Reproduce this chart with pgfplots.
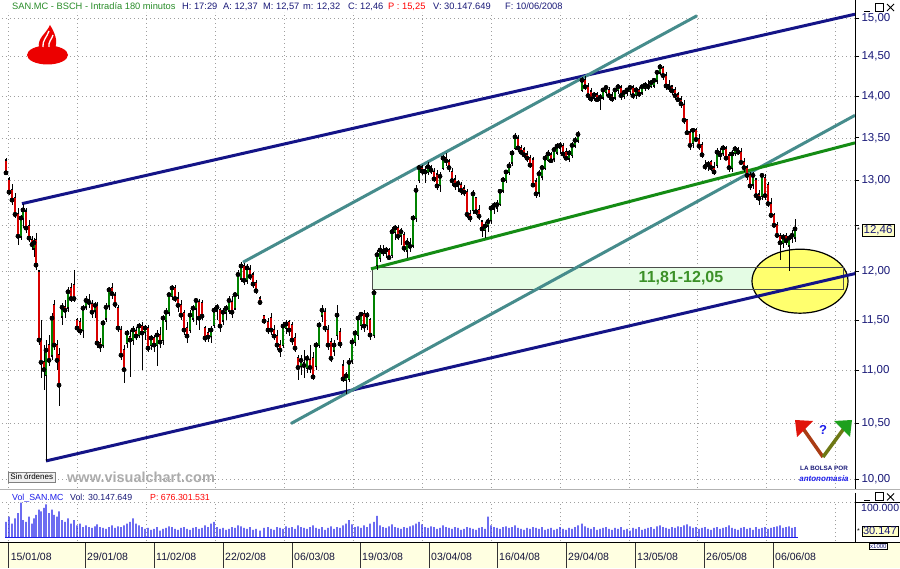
\documentclass[border=0pt]{standalone}
\usepackage{pgfplots}
\pgfplotsset{compat=1.18}
\usepackage{pgfplotstable}
\usetikzlibrary{shapes.geometric}
\usepackage{fontspec}
\setmainfont{Liberation Sans}
\definecolor{vnavy}{RGB}{25,25,120}
\definecolor{hgreen}{RGB}{40,140,40}
\definecolor{bline}{RGB}{20,20,135}
\definecolor{tline}{RGB}{70,140,140}
\definecolor{gline}{RGB}{20,140,20}
\definecolor{candg}{RGB}{0,130,0}
\definecolor{candr}{RGB}{215,0,0}
\definecolor{rectg}{RGB}{228,252,228}
\definecolor{ellY}{RGB}{255,255,110}
\definecolor{txtg}{RGB}{60,145,40}
\definecolor{strip}{RGB}{255,255,225}
\definecolor{vblue}{RGB}{30,30,235}
\definecolor{sred}{RGB}{236,0,0}
\definecolor{boxY}{RGB}{255,255,200}
\definecolor{datec}{RGB}{20,20,60}
\definecolor{armR}{RGB}{170,60,20}
\definecolor{armG}{RGB}{110,120,20}
\definecolor{logoR}{RGB}{225,20,10}
\definecolor{logoG}{RGB}{30,160,30}
\tikzset{gridst/.style={gray!75, line width=0.5pt, dash pattern=on 1pt off 3pt}}
\pgfplotstableread{
x o h l c v
6 13.23 13.26 13.06 13.09 45
9 13.01 13.04 12.84 12.87 60
12 12.89 12.96 12.72 12.78 40
15 12.80 12.86 12.58 12.62 55
18 12.62 12.69 12.28 12.38 70
21 12.38 12.61 12.34 12.58 100
23 12.58 12.74 12.47 12.67 50
26 12.65 12.69 12.41 12.47 45
29 12.49 12.56 12.32 12.36 60
32 12.34 12.38 12.23 12.29 40
34 12.25 12.36 12.16 12.31 55
36 12.34 12.42 12.02 12.07 65
39 12.00 12.02 11.25 11.30 80
41 11.30 11.50 10.93 11.08 75
44 11.08 11.25 10.81 11.01 85
46 10.96 11.30 10.16 11.20 95
49 11.25 11.35 11.05 11.10 70
52 11.15 11.57 11.10 11.52 80
54 11.65 11.70 11.20 11.25 65
57 11.25 11.30 11.01 11.10 60
59 11.15 11.22 10.66 10.86 75
62 11.54 11.67 11.45 11.63 50
65 11.63 11.70 11.52 11.60 45
68 11.63 11.84 11.58 11.79 55
71 11.83 11.88 11.68 11.72 40
74 11.86 12.02 11.68 11.72 50
77 11.50 11.52 11.38 11.42 35
80 11.48 11.52 11.35 11.39 40
83 11.40 11.65 11.32 11.62 30
86 11.64 11.75 11.60 11.70 35
89 11.70 11.77 11.62 11.68 30
92 11.66 11.70 11.52 11.58 28
95 11.60 11.68 11.52 11.65 32
97 11.64 11.68 11.22 11.27 38
100 11.27 11.32 11.18 11.24 30
103 11.25 11.50 11.22 11.47 28
106 11.52 11.67 11.48 11.63 25
109 11.65 11.84 11.60 11.81 30
112 11.83 11.88 11.72 11.77 35
115 11.75 11.79 11.62 11.66 28
118 11.62 11.65 11.38 11.42 32
121 11.40 11.44 11.10 11.15 30
124 11.20 11.25 10.88 11.01 35
127 11.27 11.40 11.22 11.37 40
130 11.33 11.40 10.94 11.30 45
133 11.30 11.44 11.25 11.40 55
136 11.39 11.43 11.30 11.34 40
139 11.35 11.47 11.32 11.44 35
142 11.44 11.48 11.01 11.37 30
145 11.38 11.45 11.30 11.42 25
148 11.42 11.45 11.18 11.22 28
151 11.25 11.35 11.20 11.32 22
154 11.32 11.35 11.18 11.25 25
157 11.25 11.40 11.05 11.35 30
160 11.35 11.43 11.22 11.28 20
163 11.30 11.55 11.25 11.52 25
166 11.50 11.62 11.40 11.58 28
169 11.58 11.77 11.54 11.76 32
172 11.75 11.86 11.70 11.83 30
175 11.83 11.86 11.68 11.72 25
178 11.72 11.79 11.58 11.65 22
181 11.65 11.70 11.50 11.55 28
184 11.57 11.60 11.35 11.40 30
187 11.42 11.48 11.27 11.34 25
190 11.40 11.60 11.37 11.55 22
193 11.52 11.65 11.48 11.62 28
196 11.62 11.73 11.45 11.70 30
199 11.68 11.72 11.40 11.52 25
202 11.67 11.70 11.50 11.54 28
205 11.42 11.44 11.28 11.32 35
208 11.37 11.42 11.28 11.33 30
211 11.34 11.44 11.27 11.40 40
214 11.45 11.63 11.42 11.60 45
217 11.60 11.66 11.50 11.63 30
220 11.60 11.62 11.38 11.44 25
223 11.50 11.62 11.45 11.58 28
226 11.58 11.65 11.50 11.62 22
229 11.60 11.75 11.56 11.70 25
232 11.68 11.75 11.52 11.58 30
235 11.62 11.79 11.60 11.76 28
238 11.76 12.02 11.72 11.97 35
241 11.93 12.10 11.89 12.06 32
244 12.06 12.09 11.86 11.91 28
247 11.91 12.08 11.87 12.04 25
250 12.02 12.07 11.91 11.95 30
253 11.97 12.00 11.83 11.87 22
256 11.88 11.91 11.77 11.80 25
260 11.72 11.75 11.65 11.68 20
264 11.54 11.55 11.46 11.49 28
268 11.48 11.52 11.36 11.40 30
271 11.52 11.57 11.35 11.40 25
274 11.40 11.45 11.30 11.34 22
277 11.34 11.40 11.20 11.25 30
280 11.25 11.30 11.13 11.20 28
283 11.25 11.48 11.22 11.44 25
286 11.42 11.50 11.36 11.46 32
289 11.48 11.50 11.34 11.40 28
292 11.45 11.48 11.25 11.30 30
295 11.32 11.37 11.18 11.22 25
298 11.12 11.15 10.91 11.03 35
301 11.05 11.15 10.96 11.10 30
304 11.07 11.20 10.93 11.05 28
307 11.03 11.15 10.98 11.12 25
310 11.10 11.25 10.98 11.03 30
313 11.12 11.18 10.91 10.94 35
316 11.05 11.28 11.01 11.25 28
319 11.25 11.48 11.22 11.45 25
322 11.55 11.65 11.48 11.60 30
325 11.58 11.62 11.38 11.42 22
328 11.40 11.45 11.20 11.25 28
331 11.28 11.32 11.08 11.12 32
334 11.20 11.30 11.14 11.25 25
337 11.35 11.65 11.30 11.55 30
340 11.38 11.42 11.22 11.26 28
343 11.05 11.10 10.89 10.92 35
346 10.91 10.99 10.78 10.95 40
349 10.92 11.12 10.89 11.08 50
352 11.10 11.32 11.06 11.28 38
355 11.28 11.40 11.24 11.37 30
358 11.35 11.55 11.30 11.52 32
361 11.45 11.58 11.40 11.56 28
364 11.56 11.60 11.38 11.44 35
367 11.45 11.58 11.40 11.55 30
370 11.50 11.52 11.30 11.35 40
374 11.35 11.81 11.32 11.78 45
377 12.07 12.23 12.02 12.18 62
380 12.15 12.28 12.10 12.23 35
383 12.23 12.28 12.17 12.21 30
386 12.20 12.26 12.15 12.23 28
389 12.23 12.25 12.12 12.15 32
392 12.18 12.48 12.15 12.43 38
395 12.43 12.50 12.34 12.47 30
398 12.47 12.50 12.34 12.38 28
401 12.39 12.47 12.28 12.43 25
404 12.39 12.43 12.21 12.25 30
407 12.23 12.36 12.15 12.31 28
410 12.30 12.36 12.21 12.27 32
413 12.28 12.61 12.25 12.58 35
416 12.58 12.95 12.54 12.89 40
419 13.01 13.18 12.97 13.15 45
422 13.15 13.18 13.07 13.11 38
425 13.12 13.17 12.97 13.10 30
428 13.10 13.21 13.06 13.16 28
431 13.15 13.18 13.08 13.12 32
434 13.10 13.15 12.99 13.02 30
437 13.07 13.12 12.89 12.94 25
440 12.95 13.10 12.87 13.05 28
443 13.15 13.30 13.12 13.26 35
446 13.26 13.32 13.17 13.23 30
449 13.22 13.25 13.10 13.15 28
452 13.10 13.15 12.94 13.00 25
455 13.01 13.06 12.89 12.95 30
458 12.94 13.01 12.87 12.97 28
461 12.95 12.98 12.84 12.89 22
464 12.91 12.95 12.83 12.87 25
467 12.87 12.91 12.58 12.62 30
470 12.62 12.67 12.54 12.58 28
473 12.67 12.89 12.62 12.85 25
476 12.80 12.82 12.61 12.65 22
479 12.67 12.72 12.56 12.60 28
482 12.54 12.56 12.37 12.46 30
485 12.45 12.54 12.36 12.49 25
488 12.50 12.58 12.43 12.54 60
491 12.56 12.72 12.51 12.69 35
494 12.69 12.76 12.62 12.72 30
497 12.70 12.78 12.65 12.73 28
500 12.74 12.91 12.71 12.88 25
503 12.89 13.04 12.86 13.01 30
506 13.01 13.12 12.97 13.10 32
509 13.10 13.21 13.07 13.17 28
512 13.21 13.36 13.17 13.32 30
515 13.38 13.56 13.36 13.51 35
518 13.49 13.53 13.33 13.38 28
521 13.38 13.42 13.30 13.33 25
524 13.36 13.39 13.26 13.30 22
527 13.30 13.34 13.22 13.26 28
530 13.26 13.30 13.15 13.18 25
533 13.24 13.27 12.94 12.95 30
536 12.99 13.03 12.80 12.85 28
539 12.87 13.12 12.82 13.08 25
542 13.05 13.18 13.01 13.15 30
545 13.15 13.30 13.12 13.26 22
548 13.24 13.36 13.21 13.31 25
551 13.30 13.33 13.20 13.23 28
554 13.26 13.39 13.22 13.36 22
557 13.33 13.44 13.30 13.40 25
560 13.38 13.45 13.31 13.41 30
563 13.40 13.44 13.26 13.31 25
566 13.33 13.38 13.24 13.26 22
569 13.26 13.36 13.21 13.32 28
572 13.30 13.45 13.26 13.41 25
575 13.41 13.51 13.38 13.47 30
578 13.47 13.58 13.44 13.54 35
582 14.08 14.24 14.05 14.20 40
585 14.20 14.25 14.08 14.12 32
588 14.12 14.17 13.96 14.01 28
591 14.06 14.11 13.93 13.97 25
594 13.99 14.06 13.94 14.02 30
597 14.02 14.06 13.93 13.96 22
600 13.96 14.03 13.83 13.99 25
603 13.99 14.11 13.96 14.08 28
606 14.06 14.14 14.01 14.11 30
609 14.08 14.12 13.96 14.01 25
612 14.01 14.06 13.93 13.97 22
615 13.99 14.11 13.96 14.08 28
618 14.08 14.15 14.03 14.12 25
621 14.11 14.14 13.96 14.01 30
624 14.01 14.07 13.97 14.05 22
627 14.05 14.11 14.01 14.08 25
630 14.07 14.12 14.02 14.11 20
633 14.11 14.14 13.97 14.01 28
636 14.02 14.12 13.97 14.08 25
639 14.08 14.12 13.99 14.03 30
642 14.05 14.14 14.02 14.12 22
645 14.11 14.18 14.07 14.14 25
648 14.14 14.20 14.08 14.12 28
651 14.13 14.21 14.10 14.17 30
654 14.14 14.22 14.11 14.20 25
657 14.20 14.33 14.15 14.30 32
660 14.30 14.40 14.27 14.37 35
663 14.35 14.38 14.20 14.26 30
666 14.26 14.30 14.08 14.13 28
669 14.14 14.20 14.06 14.11 25
672 14.12 14.14 14.02 14.07 30
675 14.08 14.12 13.96 14.01 28
678 14.02 14.06 13.93 13.96 32
681 13.96 14.01 13.86 13.91 30
684 13.89 13.96 13.67 13.71 35
687 13.71 13.73 13.53 13.56 38
690 13.56 13.61 13.36 13.41 32
693 13.44 13.62 13.38 13.59 28
696 13.59 13.62 13.45 13.48 30
699 13.48 13.54 13.36 13.40 25
702 13.41 13.45 13.26 13.30 28
705 13.18 13.24 13.12 13.16 30
708 13.17 13.23 13.11 13.19 25
711 13.21 13.24 13.11 13.15 22
714 13.15 13.22 13.06 13.10 28
717 13.18 13.38 13.15 13.33 30
720 13.33 13.38 13.24 13.30 25
723 13.32 13.41 13.29 13.38 28
726 13.37 13.40 13.24 13.26 30
729 13.29 13.33 13.10 13.15 35
732 13.15 13.36 13.10 13.31 28
735 13.32 13.40 13.29 13.37 25
738 13.36 13.39 13.30 13.33 22
741 13.33 13.38 13.18 13.21 28
744 13.21 13.26 13.10 13.15 30
747 13.15 13.18 13.01 13.06 25
750 13.06 13.10 12.89 12.94 28
753 12.96 13.10 12.91 13.06 22
756 13.01 13.03 12.78 12.83 30
759 12.84 12.89 12.72 12.80 25
762 12.83 13.09 12.78 13.06 28
765 13.03 13.08 12.78 12.83 30
768 12.95 12.98 12.70 12.74 25
771 12.74 12.80 12.59 12.61 28
774 12.61 12.64 12.48 12.50 30
777 12.50 12.54 12.36 12.39 32
780 12.38 12.42 12.12 12.31 35
783 12.31 12.40 12.25 12.37 28
786 12.38 12.42 12.28 12.33 30
789 12.28 12.39 12.01 12.36 32
792 12.36 12.45 12.31 12.39 28
795 12.37 12.57 12.32 12.46 30.147
}\candles
\pgfplotstableread{
x p
22 12.74
855 15.05
}\navyTop
\pgfplotstableread{
x p
46 10.16
855 11.98
}\navyBot
\pgfplotstableread{
x p
243 12.10
697 15.03
}\tealTop
\pgfplotstableread{
x p
291 10.50
855 13.77
}\tealBot
\pgfplotstableread{
x p
371 12.03
855 13.44
}\greenLine
\begin{document}
\begin{tikzpicture}[x=1pt,y=1pt]
\path[use as bounding box] (0,0) rectangle (900,568);
\fill[white] (0,0) rectangle (900,568);
\fill[strip] (0,0) rectangle (900,25);
% ===== main price panel (log price scale: axis runs in ln(price)) =====
\begin{axis}[
  at={(2pt,80pt)}, anchor=south west, scale only axis,
  width=853pt, height=476pt,
  xmin=2, xmax=855, ymin=2.294654, ymax=2.713303,
  axis line style={draw=none},
  xtick=\empty,
  ytick={2.302585,2.351375,2.397895,2.442347,2.484907,2.525729,2.564949,2.602690,2.639057,2.674149,2.708050},
  yticklabels={{10,00},{10,50},{11,00},{11,50},{12,00},{},{13,00},{13,50},{14,00},{14,50},{15,00}},
  yticklabel pos=right, ytick pos=right, tick align=outside,
  major tick length=4pt,
  ytick style={black, line width=0.6pt},
  yticklabel style={font=\fontsize{11.5}{12}\selectfont, text=vnavy, xshift=-1pt},
  ymajorgrids, grid style={gridst},
]
\pgfplotsinvokeforeach{8.6,77.5,146,215,284,353,422,491,560,629,697,766,835}{
  \draw[gridst] (axis cs:#1,2.294654) -- (axis cs:#1,2.713303);
}
\fill[rectg] (axis cs:372,2.468947) rectangle (axis cs:843,2.489065);
\node[ellipse, draw=black, fill=ellY, line width=1.2pt, minimum width=96pt, minimum height=64pt, inner sep=0] at (axis cs:800,2.476539) {};
\draw[black!70, line width=0.8pt] (axis cs:372,2.468947) rectangle (axis cs:843,2.489065);
\addplot[bline, line width=3pt, forget plot] table[x=x, y expr={ln(\thisrow{p})}] {\navyTop};
\addplot[bline, line width=3pt, forget plot] table[x=x, y expr={ln(\thisrow{p})}] {\navyBot};
\addplot[tline, line width=3pt, forget plot] table[x=x, y expr={ln(\thisrow{p})}] {\tealTop};
\addplot[tline, line width=3pt, forget plot] table[x=x, y expr={ln(\thisrow{p})}] {\tealBot};
\addplot[gline, line width=3pt, forget plot] table[x=x, y expr={ln(\thisrow{p})}] {\greenLine};
% wicks
\addplot[only marks, mark=none, forget plot,
  error bars/.cd, y dir=both, y explicit, error mark=none,
  error bar style={line width=0.7pt, black}]
  table[x=x, y expr={ln(\thisrow{c})},
        y error plus expr={ln(\thisrow{h})-ln(\thisrow{c})},
        y error minus expr={ln(\thisrow{c})-ln(\thisrow{l})}] {\candles};
% body outline
\addplot[only marks, mark=none, forget plot,
  error bars/.cd, y dir=both, y explicit, error mark=none,
  error bar style={line width=2.8pt, black, line cap=rect}]
  table[x=x, y expr={ln(\thisrow{c})},
        y error plus expr={ln(max(\thisrow{o},\thisrow{c}))-ln(\thisrow{c})},
        y error minus expr={ln(\thisrow{c})-ln(min(\thisrow{o},\thisrow{c}))}] {\candles};
% up bodies (zero length for down candles)
\addplot[only marks, mark=none, forget plot,
  error bars/.cd, y dir=both, y explicit, error mark=none,
  error bar style={line width=1.6pt, candg}]
  table[x=x, y expr={ln(\thisrow{c})},
        y error plus expr={0},
        y error minus expr={ln(\thisrow{c})-ln(min(\thisrow{o},\thisrow{c}))}] {\candles};
% down bodies (zero length for up candles)
\addplot[only marks, mark=none, forget plot,
  error bars/.cd, y dir=both, y explicit, error mark=none,
  error bar style={line width=1.6pt, candr}]
  table[x=x, y expr={ln(\thisrow{c})},
        y error plus expr={ln(max(\thisrow{o},\thisrow{c}))-ln(\thisrow{c})},
        y error minus expr={0}] {\candles};
\node[font=\bfseries\fontsize{16}{16}\selectfont, text=txtg] at (axis cs:681,2.479057) {11,81-12,05};
\end{axis}
% ===== volume panel =====
\begin{axis}[
  at={(2pt,27pt)}, anchor=south west, scale only axis,
  width=853pt, height=40pt,
  xmin=2, xmax=855, ymin=-10, ymax=105,
  axis line style={draw=none},
  xtick=\empty, ytick=\empty,
]
\pgfplotsinvokeforeach{8.6,77.5,146,215,284,353,422,491,560,629,697,766,835}{
  \draw[gridst] (axis cs:#1,-10) -- (axis cs:#1,105);
}
\draw[gridst] (axis cs:2,100) -- (axis cs:855,100);
\addplot[ybar, bar width=1.1pt, fill=vblue, draw=none, forget plot] table[x=x, y=v] {\candles};
\draw[vblue, line width=0.8pt] (axis cs:5,0) -- (axis cs:798,0);
\end{axis}
% ===== frame lines =====
\draw[black, line width=0.8pt] (855,568) -- (855,79);
\draw[black, line width=0.8pt] (855,75) -- (855,26);
\draw[gray!60, line width=0.6pt] (0,79) -- (900,79);
\draw[black, line width=0.8pt] (0,26) -- (900,26);
% volume right label
\draw[black, line width=0.6pt] (855,65.3) -- (859,65.3);
\node[anchor=west, inner sep=0, text=vnavy, font=\fontsize{10.5}{11}\selectfont] at (861,60.5) {100.000};
\draw[black, line width=0.7pt] (856,66) -- (900,66);
% header
\begin{scope}[every node/.style={anchor=base west, inner sep=0, font=\fontsize{9.3}{10}\selectfont}]
\node[text=hgreen] at (12,558) {SAN.MC - BSCH - Intradía 180 minutos};
\node[text=vnavy] at (182,558) {H: 17:29};
\node[text=vnavy] at (223,558) {A: 12,37};
\node[text=vnavy] at (263,558) {M: 12,57};
\node[text=vnavy] at (303,558) {m: 12,32};
\node[text=vnavy] at (348,558) {C: 12,46};
\node[text=red] at (388,558) {P : 15,25};
\node[text=vnavy] at (433,558) {V: 30.147.649};
\node[text=vnavy] at (505,558) {F: 10/06/2008};
\end{scope}
\begin{scope}[every node/.style={anchor=base west, inner sep=0, font=\fontsize{8.8}{10}\selectfont}]
\node[text=vblue] at (12,67) {Vol\_SAN.MC};
\node[text=vnavy] at (70,67) {Vol: 30.147.649};
\node[text=red] at (150,67) {P: 676.301.531};
\end{scope}
% window icons
\foreach \yy in {557,67.5}{
  \draw[black, line width=0.8pt] (864,\yy) -- (870,\yy);
  \draw[black, line width=0.7pt] (875,\yy) rectangle (883,\yy+8);
  \draw[black, line width=0.9pt] (887,\yy) -- (894,\yy+7) (887,\yy+7) -- (894,\yy);
}
% last value boxes
\node[draw=black, fill=boxY, text=vnavy, font=\fontsize{11.5}{12}\selectfont, inner sep=1.5pt, anchor=west] at (862,338) {12,46};
\node[font=\fontsize{7}{7}\selectfont, inner sep=0] at (858.5,338) {*};
\node[draw=black, fill=boxY, text=vnavy, font=\fontsize{11}{12}\selectfont, inner sep=1.3pt, anchor=west] at (861.5,37) {30.147};
\node[font=\fontsize{7}{7}\selectfont, inner sep=0] at (858.5,37) {*};
\node[draw=black, fill=white, text=vnavy, font=\fontsize{6}{6}\selectfont, inner sep=1pt, anchor=west] at (869,22) {x1000};
% date strip
\foreach \xx/\dd in {8.6/15\slash 01\slash 08,85/29\slash 01\slash 08,154/11\slash 02\slash 08,223/22\slash 02\slash 08,292/06\slash 03\slash 08,360/19\slash 03\slash 08,429/03\slash 04\slash 08,497/16\slash 04\slash 08,566/29\slash 04\slash 08,635/13\slash 05\slash 08,704/26\slash 05\slash 08,773/06\slash 06\slash 08}{
  \draw[black!80, line width=0.8pt] (\xx,25) -- (\xx,0);
  \node[anchor=west, inner sep=0, text=datec, font=\fontsize{10.5}{11}\selectfont] at (\xx+2,11) {\dd};
}
% bottom-left texts
\node[draw=gray, fill=gray!12, font=\fontsize{8}{9}\selectfont, inner sep=2.2pt, anchor=west] at (8,91) {Sin órdenes};
\node[anchor=west, inner sep=0, font=\bfseries\fontsize{14.5}{15}\selectfont, text=gray!65] at (67,91) {www.visualchart.com};
% Santander logo
\fill[sred] (47.5,513) ellipse [x radius=20.5, y radius=9.5];
\fill[sred] (39,520) .. controls (37,530) and (46,534) .. (50,543) .. controls (55,535) and (58,527) .. (55,520) -- cycle;
\draw[white, line width=1.3pt] (43,521) .. controls (42,527) and (47,531) .. (49,537);
\draw[white, line width=1.3pt] (49,521) .. controls (48,526) and (52,529) .. (53,533);
% La bolsa por antonomasia logo
\draw[line width=3.5pt, armR] (802,141) -- (823,111);
\draw[line width=3.5pt, armG] (845,141) -- (823,111);
\fill[logoR] (795,148) -- (813,147) -- (797,131) -- cycle;
\fill[logoG] (834,147) -- (852,148) -- (850,131) -- cycle;
\node[text=vblue, font=\bfseries\fontsize{13}{13}\selectfont] at (823,138) {?};
\node[font=\bfseries\fontsize{6.3}{7}\selectfont, text=vnavy, inner sep=0] at (824,100) {LA BOLSA POR};
\node[font=\bfseries\itshape\fontsize{8}{8}\selectfont, text=vblue, inner sep=0] at (824,89) {antonomasia};
\end{tikzpicture}
\end{document}
